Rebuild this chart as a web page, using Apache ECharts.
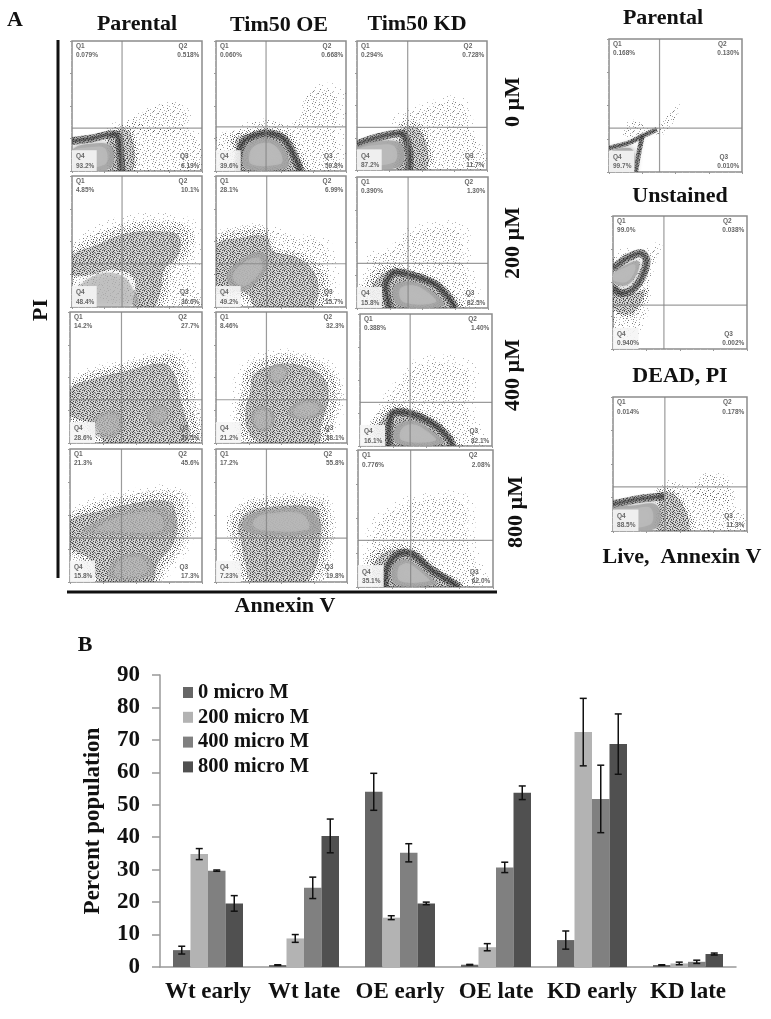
<!DOCTYPE html>
<html><head><meta charset="utf-8">
<style>html,body{margin:0;padding:0;background:#fff}#c{width:771px;height:1019px;filter:blur(0.45px)}</style>
<script src="https://cdn.jsdelivr.net/npm/echarts@6/dist/echarts.min.js"></script>
</head><body><div id="c"></div>
<script>
// ---------- panel B data ----------
const categories = ['Wt early','Wt late','OE early','OE late','KD early','KD late'];
const doses = ['0 micro M','200 micro M','400 micro M','800 micro M'];
const values0   = [5.2,0.6,54,0.7,8.3,0.6];
const values200 = [34.8,8.8,15.2,6.1,72.4,1.1];
const values400 = [29.7,24.4,35.2,30.7,51.8,1.6];
const values800 = [19.6,40.4,19.6,53.7,68.7,4];
const errors0   = [1.2,0.1,5.7,0.1,2.8,0.1];
const errors200 = [1.7,1.2,0.6,1.1,10.4,0.4];
const errors400 = [0.2,3.3,2.8,1.6,10.4,0.5];
const errors800 = [2.4,5.2,0.4,2.1,9.3,0.3];

// ---------- panel A data: outlines, in plot percent ----------
const parental0 = {gate:[38.5,33],q:['0.079%','0.518%','6.19%','93.2%'],
 haze:[[[25,0],[25,30],[45,38],[65,34],[95,30],[100,0]],[[40,33],[58,48],[85,52],[88,32]]],
 cloud:[[[28,18],[26,27],[38,34],[47,30],[48,0],[29,0]]],
 ring:[[[0,23],[15,25],[34,28],[37,15],[38,0]]],
 core:[[[0,2],[29,2],[30,19],[15,21],[0,16]]]};
const oe0 = {gate:[38.5,34],q:['0.060%','0.668%','59.8%','39.6%'],
 haze:[[[0,0],[0,25],[15,32],[35,40],[60,37],[72,62],[85,66],[97,60],[96,30],[95,0]]],
 cloud:[[[12,26],[28,31],[40,33],[56,28],[64,14],[70,0],[14,0],[14,12]]],
 ring:[[[17,0],[18,15],[23,24],[38,29],[52,25],[60,12],[65,0]]],
 core:[[[23,2],[21,14],[27,22],[40,25],[50,20],[56,8],[53,2]]]};
const kd0 = {gate:[39,33],q:['0.294%','0.728%','11.7%','87.2%'],
 haze:[[[30,0],[30,40],[45,48],[80,55],[90,30],[100,0]]],
 cloud:[[[30,18],[36,36],[52,30],[55,0],[30,0]]],
 ring:[[[0,20],[15,25],[35,28],[40,15],[40,0]]],
 core:[[[0,3],[33,3],[34,20],[15,22],[0,16]]]};
const parental200 = {gate:[38.5,33],q:['4.85%','10.1%','36.6%','48.4%'],fade:.6,
 haze:[[[0,14],[0,47],[28,64],[60,70],[90,66],[98,52],[95,22],[100,0],[60,0]]],
 cloud:[[[0,24],[0,40],[15,50],[40,60],[70,62],[88,58],[87,40],[75,28],[72,10],[65,0],[48,0],[48,20],[30,28],[12,24]]],
 ring:[],
 core:[[[2,12],[20,25],[38,24],[48,12],[50,2],[2,2]]]};
const oe200 = {gate:[39,33],q:['28.1%','6.99%','15.7%','49.2%'],fade:.75,
 haze:[[[0,4],[0,54],[18,60],[38,62],[60,55],[85,50],[92,20],[85,0],[30,0]]],
 cloud:[[[0,10],[0,50],[15,57],[38,58],[45,45],[65,40],[80,28],[85,10],[78,0],[30,0],[20,8]]],
 ring:[],
 core:[[[8,22],[18,35],[35,42],[40,32],[30,18],[18,12]]]};
const kd200 = {gate:[39,34],q:['0.390%','1.30%','82.5%','15.8%'],
 haze:[[[5,5],[10,40],[25,45],[40,60],[80,62],[85,35],[90,0],[20,0]]],
 cloud:[[[5,8],[10,22],[25,32],[42,28],[60,22],[74,10],[80,0],[22,0]]],
 ring:[[[25,0],[22,18],[28,27],[42,25],[60,18],[70,8],[75,0]]],
 core:[[[32,2],[28,16],[42,20],[58,12],[66,2]]]};
const parental400 = {gate:[39,33],q:['14.2%','27.7%','29.5%','28.6%'],fade:.5,
 haze:[[[0,14],[0,46],[15,56],[40,62],[75,70],[90,66],[96,35],[98,0],[20,0]]],
 cloud:[[[0,20],[0,42],[15,52],[40,58],[75,65],[85,55],[90,35],[95,0],[25,0],[15,10]]],
 ring:[],
 core:[[[14,10],[22,22],[36,24],[40,12],[30,4]],[[58,20],[65,28],[74,26],[74,18],[64,14]]]};
const oe400 = {gate:[38.5,33],q:['8.46%','32.3%','38.1%','21.2%'],fade:.6,
 haze:[[[16,4],[14,30],[20,58],[38,68],[62,69],[88,60],[96,38],[90,6],[84,0],[28,0]]],
 cloud:[[[20,5],[18,25],[22,40],[25,55],[40,63],[60,65],[85,55],[92,38],[85,10],[82,0],[33,0]]],
 ring:[],
 core:[[[29,12],[27,22],[33,28],[41,26],[45,18],[40,10],[34,9]],[[40,50],[42,58],[50,60],[56,54],[50,47],[44,46]],[[55,22],[62,31],[78,32],[82,24],[68,18]]]};
const kd400 = {gate:[38,33],q:['0.388%','1.40%','82.1%','16.1%'],
 haze:[[[8,5],[15,30],[25,45],[45,65],[85,60],[85,30],[90,0],[20,0]]],
 cloud:[[[6,8],[12,20],[24,30],[40,28],[58,20],[70,8],[74,0],[20,0]]],
 ring:[[[22,0],[22,15],[25,25],[40,24],[58,15],[68,5],[70,0]]],
 core:[[[28,2],[27,14],[40,19],[55,11],[63,2]]]};
const parental800 = {gate:[39,33],q:['21.3%','45.6%','17.3%','15.8%'],fade:.55,
 haze:[[[0,20],[0,52],[20,62],[40,67],[80,70],[92,55],[90,30],[75,8],[70,0],[18,0],[8,14]]],
 cloud:[[[0,25],[0,48],[20,57],[40,62],[80,65],[87,50],[85,30],[70,10],[65,0],[20,0],[10,15]]],
 ring:[],
 core:[[[8,37],[30,50],[70,56],[80,46],[75,36],[20,36]],[[30,3],[35,18],[58,20],[62,5]]]};
const oe800 = {gate:[38.5,33],q:['17.2%','55.8%','19.8%','7.23%'],fade:.8,
 haze:[[[9,44],[18,58],[35,64],[80,64],[89,50],[88,28],[84,4],[75,0],[20,0],[14,14],[12,30]]],
 cloud:[[[12,44],[20,55],[35,60],[80,60],[85,48],[85,30],[80,5],[70,0],[25,0],[18,12],[15,28]]],
 ring:[],
 core:[[[20,42],[25,50],[40,54],[70,54],[79,45],[78,37],[30,36]]]};
const kd800 = {gate:[39,34],q:['0.776%','2.08%','62.0%','35.1%'],
 haze:[[[5,5],[10,45],[25,58],[40,65],[80,65],[85,35],[90,0],[15,0]]],
 cloud:[[[6,10],[12,24],[28,30],[42,28],[58,14],[76,4],[78,0],[18,0]]],
 ring:[[[20,0],[22,15],[30,24],[40,24],[55,12],[70,3],[75,0]]],
 core:[[[28,2],[26,15],[33,20],[40,18],[55,6],[58,2]]]};
const parentalCtl = {gate:[38,33],q:['0.168%','0.130%','0.010%','99.7%'],thin:true,
 haze:[[[33,28],[48,47],[53,50],[50,40],[40,28]],[[10,28],[15,38],[28,36],[28,27]]],
 cloud:[],
 ring:[[[0,18],[15,22],[25,27],[36,32]],[[25,27],[22,12],[20,0]]],
 core:[[[0,0],[17,0],[19,14],[15,18],[0,14]]]};
const unstained = {gate:[38,33],q:['99.0%','0.038%','0.002%','0.940%'],
 haze:[[[0,8],[10,5],[24,22],[30,60],[36,80],[25,75],[0,70]]],
 cloud:[[[0,30],[0,50],[12,42],[25,45],[22,34],[12,24]]],
 ring:[[[0,46],[6,42],[15,45],[22,55],[25,67],[21,72],[10,68],[0,60]]],
 core:[[[0,50],[10,48],[18,57],[19,66],[9,63],[0,56]]]};
const deadPI = {gate:[38.7,33],q:['0.014%','0.178%','11.3%','88.5%'],
 haze:[[[40,0],[38,36],[60,32],[85,25],[100,0]],[[60,28],[66,42],[85,40],[90,22]]],
 cloud:[[[33,18],[33,30],[45,30],[56,15],[58,0],[33,0]]],
 ring:[[[0,20],[20,24],[38,26]]],
 core:[[[0,2],[32,2],[33,19],[15,19],[0,16]]]};

const panels = [parental0,oe0,kd0,parental200,oe200,kd200,parental400,oe400,kd400,parental800,oe800,kd800,parentalCtl,unstained,deadPI];
// left, top, right, bottom in pixels
const panelBoxes = [[72,41,202,171],[216,41,346,171],[357,41,487,170],
 [72,176,202,307],[216,176,346,307],[357,177,488,308],
 [70,312,202,443],[216,312,347,443],[360,314,492,446],
 [70,449,202,582],[216,449,347,582],[358,450,493,587],
 [609,39,742,172],[613,216,747,349],[613,397,747,531]];

const speckle = ['07205802900631048027','30084100527008250613','62703069014750093008','10528007340096201740',
 '48006251007304805209','05930048620015370082','71004700183608004630','20680352006041790005',
 '06017009450270036801','93052640008153002470','00748013906004827005','52006080270439001638',
 '14830027005081640200','07002963108006052897','60491007240375008003','28005830069002714060',
 '03760019402580060352','81004206007043918000','05390087153006200741','40072500360829005018'];

function tile(minDigit, scale, base){
  const s=document.createElement('canvas'); s.width=s.height=20;
  const g=s.getContext('2d');
  if(base){g.fillStyle=base;g.fillRect(0,0,20,20);}
  speckle.forEach((r,y)=>[...r].forEach((d,x)=>{
    if(+d>=minDigit){g.fillStyle='rgba(40,40,40,'+(d/9*scale)+')';g.fillRect(x,y,1,1);}
  }));
  return {image:s,repeat:'repeat'};
}
const hazeOuter=tile(9,.35), hazeInner=tile(8,.4);
const cloudOuter=tile(7,.45), cloudMid=tile(5,.5), cloudInner=tile(3,.55,'rgba(125,125,125,.3)');
const rimFill=tile(2,.85,'rgba(95,95,95,.5)');

function scaled(pts,k){
  const n=pts.length, cx=pts.reduce((a,q)=>a+q[0],0)/n, cy=pts.reduce((a,q)=>a+q[1],0)/n;
  return pts.map(q=>[(q[0]===0||q[0]===100)?q[0]:cx+(q[0]-cx)*k,(q[1]===0||q[1]===100)?q[1]:cy+(q[1]-cy)*k]);
}

const serif='"Liberation Serif","Times New Roman",serif';
const small='bold 6.5px "Liberation Sans",Arial,sans-serif';
const grids=[{left:160,right:35,top:675,bottom:52}];
const xAxes=[{type:'category',data:categories,gridIndex:0,
  axisLine:{lineStyle:{color:'#999',width:1.5}},axisTick:{length:6,lineStyle:{color:'#999',width:1.5}},
  axisLabel:{color:'#111',fontFamily:serif,fontWeight:'bold',fontSize:23,margin:14,interval:0}}];
const yAxes=[{type:'value',min:0,max:90,interval:10,gridIndex:0,
  name:'Percent population',nameLocation:'middle',nameGap:55,nameRotate:90,
  nameTextStyle:{color:'#111',fontFamily:serif,fontWeight:'bold',fontSize:23},
  axisLine:{show:true,lineStyle:{color:'#999',width:1.5}},axisTick:{show:true,length:8,lineStyle:{color:'#999',width:1.5}},
  splitLine:{show:false},
  axisLabel:{color:'#111',fontFamily:serif,fontWeight:'bold',fontSize:23,margin:20,padding:[3,0,0,0]}}];

const doseValues=[values0,values200,values400,values800];
const doseErrors=[errors0,errors200,errors400,errors800];
const doseColors=['#666666','#b3b3b3','#808080','#505050'];
const barW=17.5;
const series=[];
doses.forEach((d,i)=>{
  series.push({type:'bar',name:d,data:doseValues[i],barWidth:barW,barGap:'0%',
    itemStyle:{color:doseColors[i]},silent:true});
});
doses.forEach((d,i)=>{
  series.push({type:'custom',name:d+' err',silent:true,z:5,
    data:categories.map((c,k)=>[k,doseValues[i][k]-doseErrors[i][k],doseValues[i][k]+doseErrors[i][k]]),
    encode:{x:0,y:[1,2]},
    renderItem(params,api){
      const lo=api.coord([api.value(0),api.value(1)]), hi=api.coord([api.value(0),api.value(2)]);
      const x=lo[0]+(i-1.5)*barW, st={stroke:'#111',lineWidth:1.5,fill:'none'};
      const seg=(a,b,c,e)=>({type:'line',shape:{x1:a,y1:b,x2:c,y2:e},style:st});
      return {type:'group',children:[seg(x,lo[1],x,hi[1]),seg(x-3.5,lo[1],x+3.5,lo[1]),seg(x-3.5,hi[1],x+3.5,hi[1])]};
    }});
});

panels.forEach((p,i)=>{
  const b=panelBoxes[i];
  grids.push({left:b[0],top:b[1],width:b[2]-b[0],height:b[3]-b[1],show:true,borderColor:'#8c8c8c',borderWidth:1.5,backgroundColor:'#fff'});
  const ax={type:'value',min:0,max:100,interval:25,gridIndex:i+1,
    axisLine:{show:false},axisLabel:{show:false},splitLine:{show:false},
    axisTick:{show:true,length:2,lineStyle:{color:'#999',width:1}},
    minorTick:{show:true,length:1,splitNumber:5,lineStyle:{color:'#bbb'}}};
  xAxes.push(Object.assign({},ax));
  yAxes.push(Object.assign({},ax));
  series.push({type:'custom',xAxisIndex:i+1,yAxisIndex:i+1,silent:true,clip:true,data:[[0,0]],
    renderItem(params,api){
      const c=pts=>pts.map(q=>api.coord(q));
      const kids=[];
      const poly=(g,k,fill,extra)=>kids.push({type:'polygon',shape:{points:c(scaled(g,k)),smooth:0.4},style:Object.assign({fill},extra||{})});
      p.haze.forEach(g=>{poly(g,1.06,hazeOuter);poly(g,.9,hazeInner);});
      p.cloud.forEach(g=>{poly(g,1.1,cloudOuter);poly(g,1,cloudMid);poly(g,.86,cloudInner);});
      p.ring.forEach(g=>{
        kids.push({type:'polyline',shape:{points:c(g),smooth:0.3},style:{stroke:rimFill,lineWidth:p.thin?5:8,fill:'none'}});
        kids.push({type:'polyline',shape:{points:c(g),smooth:0.3},style:{stroke:'rgba(40,40,40,.4)',lineWidth:p.thin?2:3,fill:'none',shadowBlur:4,shadowColor:'rgba(50,50,50,.5)'}});
      });
      const fade=p.fade||1;
      p.core.forEach(g=>{
        poly(g,1,'rgba(165,165,165,'+(.85*fade)+')',{shadowBlur:6,shadowColor:'rgba(130,130,130,'+(.8*fade)+')'});
        poly(g,.72,'rgba(190,190,190,'+(.7*fade)+')',{shadowBlur:5,shadowColor:'rgba(190,190,190,'+(.7*fade)+')'});
      });
      const gv=c([[p.gate[0],0],[p.gate[0],100]]), gh=c([[0,p.gate[1]],[100,p.gate[1]]]);
      const gs={stroke:'rgba(130,130,130,.8)',lineWidth:1.2};
      kids.push({type:'line',shape:{x1:gv[0][0],y1:gv[0][1],x2:gv[1][0],y2:gv[1][1]},style:gs});
      kids.push({type:'line',shape:{x1:gh[0][0],y1:gh[0][1],x2:gh[1][0],y2:gh[1][1]},style:gs});
      const box=c([[0,16],[19,0]]);
      kids.push({type:'rect',shape:{x:box[0][0],y:box[0][1],width:box[1][0]-box[0][0],height:box[1][1]-box[0][1]},style:{fill:'rgba(245,245,245,.9)'}});
      const t=(s,q,al)=>{const u=api.coord(q);kids.push({type:'text',style:{text:s,x:u[0],y:u[1],font:small,fill:'#666',align:al,verticalAlign:'middle'}});};
      t('Q1',[3,96],'left');t(p.q[0],[3,89],'left');
      t('Q2',[82,96],'left');t(p.q[1],[98,89],'right');
      t('Q3',[83,11],'left');t(p.q[2],[98,4],'right');
      t('Q4',[3,11],'left');t(p.q[3],[3,4],'left');
      return {type:'group',children:kids};
    }});
});

const label=(text,x,y,rot)=>({type:'text',x,y,rotation:rot||0,silent:true,
  style:{text,font:'bold 22px '+serif,fill:'#111',align:'center',verticalAlign:'middle'}});
const heavy=(x1,y1,x2,y2)=>({type:'line',silent:true,shape:{x1,y1,x2,y2},style:{stroke:'#111',lineWidth:3}});
const Q=Math.PI/2;
const graphics=[
  label('A',15,20),label('B',85,645),
  label('Parental',137,24),label('Tim50 OE',279,25),label('Tim50 KD',417,24),
  label('Parental',663,18),label('Unstained',680,196),label('DEAD, PI',680,376),label('Live,  Annexin V',682,557),
  label('PI',41,310,Q),label('Annexin V',285,606),
  label('0 µM',513,102,Q),label('200 µM',513,243,Q),label('400 µM',513,375,Q),label('800 µM',516,512,Q),
  heavy(58,40,58,578),heavy(67,592,497,592)
];

const chart=echarts.init(document.getElementById('c'),null,{renderer:'canvas'});
chart.setOption({animation:false,backgroundColor:'#fff',
  legend:{data:doses,orient:'vertical',left:178,top:677,itemWidth:10,itemHeight:11,itemGap:3.8,icon:'rect',selectedMode:false,
    textStyle:{color:'#111',fontFamily:serif,fontWeight:'bold',fontSize:20.5}},
  tooltip:{show:false},grid:grids,xAxis:xAxes,yAxis:yAxes,series,graphic:{elements:graphics}});
</script></body></html>
